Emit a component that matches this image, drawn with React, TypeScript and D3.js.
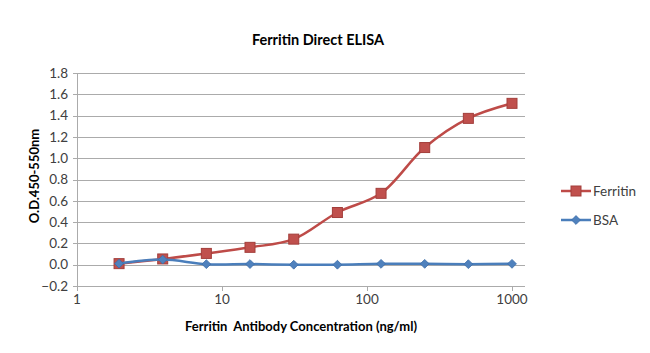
import React, { useEffect, useRef } from 'react';
import * as d3 from 'd3';

const concentrations = [1.95, 3.9, 7.8, 15.6, 31.25, 62.5, 125, 250, 500, 1000];
const ferritinValues = [0.01, 0.054, 0.106, 0.163, 0.24, 0.49, 0.67, 1.1, 1.374, 1.515];
const bsaValues = [0.01, 0.048, 0.005, 0.006, 0.0, 0.0, 0.008, 0.008, 0.005, 0.008];
const yTicks = [-0.2, 0, 0.2, 0.4, 0.6, 0.8, 1.0, 1.2, 1.4, 1.6, 1.8];
const xTicks = [1, 10, 100, 1000];

const FONT = 'Lato, "Open Sans", sans-serif';

export default function App() {
  const ref = useRef<SVGSVGElement>(null);

  useEffect(() => {
    const svg = d3.select(ref.current);
    svg.selectAll('*').remove();

    const w = 650;
    const h = 353;

    svg.append('rect').attr('width', w).attr('height', h).attr('fill', '#fff');

    const x = d3.scaleLog().domain([1, 1000]).range([77, 512]);
    const y = d3.scaleLinear().domain([-0.2, 1.8]).range([286, 73]);
    const plotRight = 525;

    // gridlines
    svg.append('g')
      .selectAll('line')
      .data(yTicks)
      .join('line')
      .attr('x1', 73)
      .attr('x2', plotRight)
      .attr('y1', d => Math.round(y(d)) + 0.5)
      .attr('y2', d => Math.round(y(d)) + 0.5)
      .attr('stroke', '#ababab')
      .attr('stroke-width', 1);

    // y axis line
    svg.append('line')
      .attr('x1', 77.5).attr('x2', 77.5)
      .attr('y1', y(1.8)).attr('y2', y(-0.2))
      .attr('stroke', '#ababab');

    // x tick marks
    svg.append('g')
      .selectAll('line')
      .data(xTicks)
      .join('line')
      .attr('x1', d => Math.round(x(d)) + 0.5)
      .attr('x2', d => Math.round(x(d)) + 0.5)
      .attr('y1', y(-0.2))
      .attr('y2', y(-0.2) + 5)
      .attr('stroke', '#ababab');

    // y tick labels
    svg.append('g')
      .selectAll('text')
      .data(yTicks)
      .join('text')
      .attr('x', 68)
      .attr('y', d => y(d))
      .attr('dy', '0.35em')
      .attr('text-anchor', 'end')
      .attr('font-family', FONT)
      .attr('font-size', 13.5)
      .attr('fill', '#404040')
      .text(d => d3.format('.1f')(d));

    // x tick labels
    svg.append('g')
      .selectAll('text')
      .data(xTicks)
      .join('text')
      .attr('x', d => x(d))
      .attr('y', 304)
      .attr('text-anchor', 'middle')
      .attr('font-family', FONT)
      .attr('font-size', 13.5)
      .attr('fill', '#404040')
      .text(d => String(d));

    const line = d3.line<number>()
      .x((d, i) => x(concentrations[i]))
      .y(d => y(d))
      .curve(d3.curveCatmullRom.alpha(0.5));

    const sq = 10;
    const diamond = d3.symbol().type(d3.symbolDiamond2).size(50);

    // Ferritin (drawn first, BSA sits on top)
    svg.append('path')
      .attr('d', line(ferritinValues))
      .attr('fill', 'none')
      .attr('stroke', '#be4b48')
      .attr('stroke-width', 2.5);

    svg.append('g')
      .selectAll('rect')
      .data(ferritinValues)
      .join('rect')
      .attr('x', (d, i) => x(concentrations[i]) - sq / 2)
      .attr('y', d => y(d) - sq / 2)
      .attr('width', sq)
      .attr('height', sq)
      .attr('fill', '#c0504d')
      .attr('stroke', '#a33e3b')
      .attr('stroke-width', 1);

    // BSA
    svg.append('path')
      .attr('d', line(bsaValues))
      .attr('fill', 'none')
      .attr('stroke', '#4a7ebb')
      .attr('stroke-width', 2.5);

    svg.append('g')
      .selectAll('path')
      .data(bsaValues)
      .join('path')
      .attr('transform', (d, i) => `translate(${x(concentrations[i])},${y(d)})`)
      .attr('d', diamond)
      .attr('fill', '#4f81bd')
      .attr('stroke', '#3c6da8')
      .attr('stroke-width', 0.8);

    // title
    svg.append('text')
      .attr('x', 318)
      .attr('y', 45)
      .attr('text-anchor', 'middle')
      .attr('font-family', FONT)
      .attr('font-size', 14.5)
      .attr('font-weight', 'bold')
      .attr('fill', '#000')
      .text('Ferritin Direct ELISA');

    // axis titles
    svg.append('text')
      .attr('x', 301)
      .attr('y', 331)
      .attr('text-anchor', 'middle')
      .attr('font-family', FONT)
      .attr('font-size', 13)
      .attr('font-weight', 'bold')
      .attr('fill', '#000')
      .attr('xml:space', 'preserve')
      .style('white-space', 'pre')
      .text('Ferritin  Antibody Concentration (ng/ml)');

    svg.append('text')
      .attr('transform', 'translate(39,176) rotate(-90)')
      .attr('text-anchor', 'middle')
      .attr('font-family', FONT)
      .attr('font-size', 13)
      .attr('font-weight', 'bold')
      .attr('fill', '#000')
      .text('O.D.450-550nm');

    // legend
    const legend = [
      { name: 'Ferritin', color: '#be4b48', shape: 'square' },
      { name: 'BSA', color: '#4a7ebb', shape: 'diamond' },
    ];
    const lg = svg.append('g');
    legend.forEach((s, i) => {
      const ly = 191 + i * 29;
      lg.append('line')
        .attr('x1', 561).attr('x2', 591)
        .attr('y1', ly).attr('y2', ly)
        .attr('stroke', s.color)
        .attr('stroke-width', 2.5);
      if (s.shape === 'square') {
        lg.append('rect')
          .attr('x', 571).attr('y', ly - 5)
          .attr('width', 10).attr('height', 10)
          .attr('fill', '#c0504d')
          .attr('stroke', '#a33e3b');
      } else {
        lg.append('path')
          .attr('transform', `translate(576,${ly})`)
          .attr('d', diamond)
          .attr('fill', '#4f81bd')
          .attr('stroke', '#3c6da8')
          .attr('stroke-width', 0.8);
      }
      lg.append('text')
        .attr('x', 593)
        .attr('y', ly)
        .attr('dy', '0.35em')
        .attr('font-family', FONT)
        .attr('font-size', 13.5)
        .attr('fill', '#404040')
        .text(s.name);
    });
  }, []);

  return (
    <svg
      ref={ref}
      width={650}
      height={353}
      style={{ position: 'absolute', left: 0, top: 0, display: 'block' }}
    />
  );
}
